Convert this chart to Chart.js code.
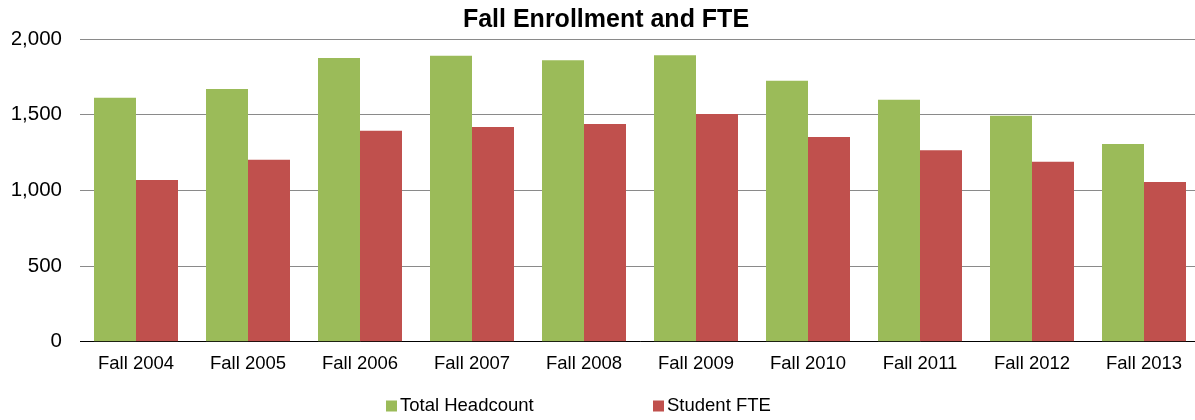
<!DOCTYPE html>
<html>
<head>
<meta charset="utf-8">
<script src="https://cdn.jsdelivr.net/npm/chart.js@4.4.1/dist/chart.umd.min.js"></script>
<style>
  html, body { margin: 0; padding: 0; background: #fff; overflow: hidden; }
  #wrap { position: relative; width: 1200px; height: 420px; }
</style>
</head>
<body>
<div id="wrap"><canvas id="c" width="1200" height="420"></canvas></div>
<script>
const categories = ['Fall 2004','Fall 2005','Fall 2006','Fall 2007','Fall 2008','Fall 2009','Fall 2010','Fall 2011','Fall 2012','Fall 2013'];
const totalHeadcount = [1612, 1669, 1874, 1889, 1860, 1893, 1724, 1598, 1493, 1306];
const studentFTE = [1068, 1202, 1394, 1418, 1438, 1504, 1352, 1266, 1189, 1055];
const seriesNames = ['Total Headcount', 'Student FTE'];
const chartTitle = 'Fall Enrollment and FTE';

const FONT = '"Liberation Sans", Arial, sans-serif';

const legendPlugin = {
  id: 'excelLegend',
  afterDraw(chart) {
    const ctx = chart.ctx;
    ctx.save();
    ctx.font = '18.5px ' + FONT;
    ctx.textBaseline = 'middle';
    ctx.textAlign = 'left';
    const startX = 386, slot = 267, cy = 406, box = 11;
    chart.data.datasets.forEach((ds, i) => {
      const x = startX + i * slot;
      ctx.fillStyle = ds.backgroundColor;
      ctx.fillRect(x, cy - box / 2, box, box);
      ctx.fillStyle = '#000';
      ctx.fillText(ds.label, x + box + 3, cy);
    });
    ctx.restore();
  }
};

new Chart(document.getElementById('c'), {
  type: 'bar',
  data: {
    labels: categories,
    datasets: [
      { label: seriesNames[0], data: totalHeadcount, backgroundColor: '#9BBB59', borderWidth: 0 },
      { label: seriesNames[1], data: studentFTE, backgroundColor: '#C0504D', borderWidth: 0 }
    ]
  },
  options: {
    responsive: false,
    animation: false,
    devicePixelRatio: 1,
    layout: { padding: { left: 12, right: 0, top: 0, bottom: 34 } },
    datasets: { bar: { categoryPercentage: 0.75, barPercentage: 1.0 } },
    plugins: {
      legend: { display: false },
      tooltip: { enabled: false },
      title: {
        display: true,
        text: chartTitle,
        color: '#000',
        font: { family: FONT, size: 25, weight: 'bold' },
        padding: { top: 5, bottom: 4 }
      }
    },
    scales: {
      x: {
        grid: { display: false, drawTicks: false },
        border: { display: true, color: '#000', width: 1 },
        ticks: { color: '#000', font: { family: FONT, size: 18.5 }, padding: 11, maxRotation: 0, autoSkip: false }
      },
      y: {
        min: 0, max: 2000,
        afterFit: s => { s.width = 68; },
        grid: { color: '#8a8a8a', lineWidth: 1, drawTicks: false },
        border: { display: false },
        ticks: {
          stepSize: 500, color: '#000', padding: 18,
          font: { family: FONT, size: 20.5 },
          callback: v => v.toLocaleString('en-US')
        }
      }
    }
  },
  plugins: [legendPlugin]
});
</script>
</body>
</html>
